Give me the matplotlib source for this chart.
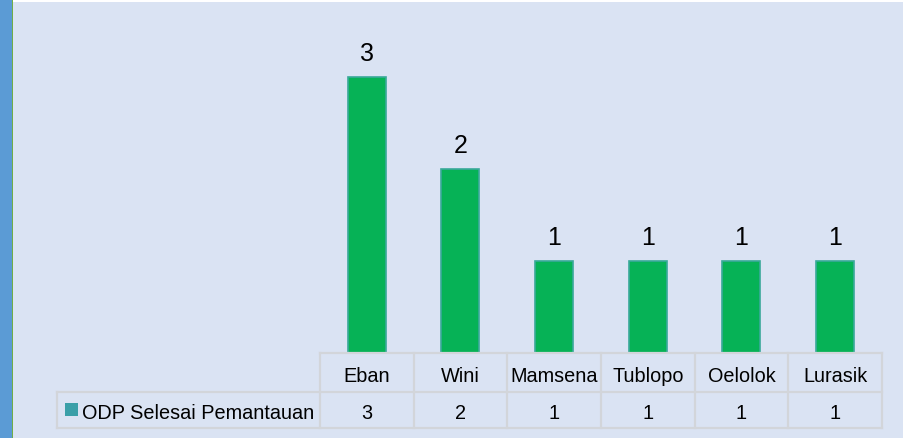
import matplotlib
matplotlib.use("Agg")
import matplotlib.pyplot as plt
from matplotlib.patches import Rectangle
from matplotlib.lines import Line2D

categories = ["Eban", "Wini", "Mamsena", "Tublopo", "Oelolok", "Lurasik"]
values = [3, 2, 1, 1, 1, 1]
series_name = "ODP Selesai Pemantauan"

W, H = 904, 439
DPI = 100
BG = "#dae3f3"
BAR = "#06b256"
BAR_EDGE = "#3aa99a"
GRID = "#d2d5da"
FONT = "Liberation Sans"

fig = plt.figure(figsize=(W / DPI, H / DPI), dpi=DPI)
fig.patch.set_facecolor(BG)

def fx(px):
    return px / W

def fy(py):
    return 1 - py / H

# decorative left strip and top strip
fig.add_artist(Rectangle((0, 0), fx(12), 1, transform=fig.transFigure,
                         facecolor="#5b9bd5", edgecolor="none", zorder=0))
fig.add_artist(Rectangle((fx(12), 0), fx(1.5), 1, transform=fig.transFigure,
                         facecolor="#70ad47", edgecolor="none", zorder=0))
fig.add_artist(Rectangle((fx(13.5), fy(3)), 1, 3 / H, transform=fig.transFigure,
                         facecolor="white", edgecolor="none", zorder=0))

# plot axes
x0, x1 = 320, 882
ybase = 354
ytop = 10
unit = 92.0
ax = fig.add_axes([fx(x0), fy(ybase), fx(x1 - x0), (ybase - ytop) / H])
ax.set_facecolor("none")
ax.set_xlim(-0.5, len(categories) - 0.5)
ax.set_ylim(0, (ybase - ytop) / unit)
for s in ax.spines.values():
    s.set_visible(False)
ax.set_xticks([])
ax.set_yticks([])

bw = 38 / ((x1 - x0) / len(categories))
xs = list(range(len(categories)))
ax.bar(xs, values, width=bw, color=BAR, edgecolor=BAR_EDGE, linewidth=1.2, zorder=2)
for x, v in zip(xs, values):
    ax.annotate(str(v), (x, v), xytext=(0, 12), textcoords="offset points",
                ha="center", va="baseline", fontsize=18, family=FONT, color="black")

# data table
col_w = (x1 - x0) / len(categories)
row1_top, row1_bot, row2_bot = 354, 393, 429
leg_x = 57
TS = 14.3

def hline(xa, xb, y):
    fig.add_artist(Line2D([fx(xa), fx(xb)], [fy(y), fy(y)], transform=fig.transFigure,
                          color=GRID, linewidth=1.6, zorder=1))

def vline(x, ya, yb):
    fig.add_artist(Line2D([fx(x), fx(x)], [fy(ya), fy(yb)], transform=fig.transFigure,
                          color=GRID, linewidth=1.6, zorder=1))

hline(x0, x1, row1_top)
hline(leg_x, x1, row1_bot)
hline(leg_x, x1, row2_bot)
vline(leg_x, row1_bot, row2_bot)
for i in range(len(categories) + 1):
    vline(x0 + i * col_w, row1_top, row2_bot)

for i, (c, v) in enumerate(zip(categories, values)):
    cx = x0 + (i + 0.5) * col_w
    fig.text(fx(cx), fy(382), c, ha="center", va="baseline",
             fontsize=TS, family=FONT, color="black")
    fig.text(fx(cx), fy(419), str(v), ha="center", va="baseline",
             fontsize=TS, family=FONT, color="black")

# legend key
fig.add_artist(Rectangle((fx(65), fy(417)), fx(13), 13 / H, transform=fig.transFigure,
                         facecolor="#3a9fa8", edgecolor="none", zorder=2))
fig.text(fx(82), fy(419), series_name, ha="left", va="baseline",
         fontsize=TS, family=FONT, color="black")

fig.savefig("out.png", dpi=DPI, facecolor=fig.get_facecolor())
